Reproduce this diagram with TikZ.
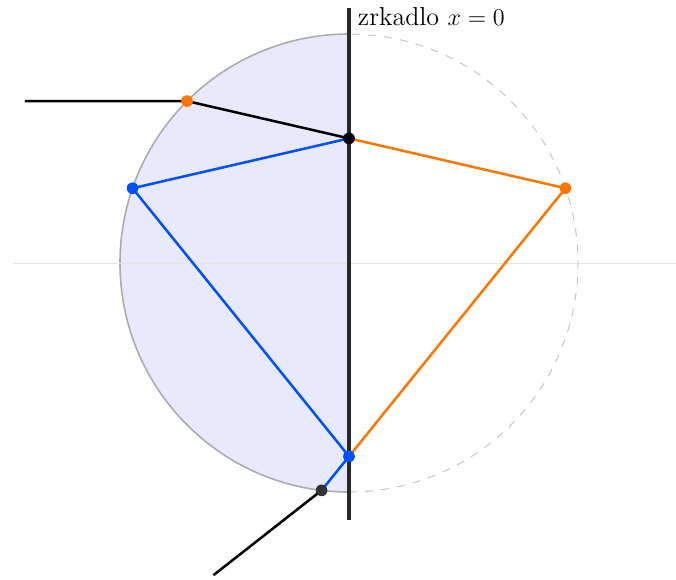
\documentclass[tikz,border=0pt]{standalone}
\usepackage{tikz}
\usetikzlibrary{calc}
\definecolor{rayorange}{RGB}{255,119,0}
\definecolor{rayblue}{RGB}{0,80,255}
\definecolor{dropfill}{RGB}{232,234,252}
\definecolor{mirrorgray}{RGB}{40,40,40}
\tikzset{
  ray/.style={line width=1.25pt},
  inray/.style={ray, color=black},
  blueray/.style={ray, color=rayblue},
  orangeray/.style={ray, color=rayorange},
  dot/.style={circle, inner sep=0pt, minimum size=5.8pt, fill=#1},
  mirror/.style={line width=1.5pt, color=mirrorgray},
}

\begin{document}
\begin{tikzpicture}
  \useasboundingbox (-6.096,-5.520) rectangle (5.712,4.594);

  % Kvapka
  \fill[dropfill] (0,4) arc (90:270:4) -- cycle;
  \draw[gray!65, line width=0.8pt] (0,4) arc (90:270:4);
  \draw[gray!45, line width=0.5pt, dash pattern=on 4pt off 4pt] (0,-4) arc (-90:90:4);
  \draw[gray!20, line width=0.5pt] (-5.869,0) -- (5.712,0);

  % Body
  \coordinate (in)   at (135:4);
  \coordinate (back) at (19.06:4);
  \coordinate (out)  at (263.12:4);
  \coordinate (refl) at (160.94:4);
  \coordinate (mtop) at (0,4.454);
  \coordinate (mbot) at (0,-4.489);
  \coordinate (A) at (intersection of in--back and mtop--mbot);
  \coordinate (B) at (intersection of back--out and mtop--mbot);
  \coordinate (src) at (-5.66,2.828);
  \coordinate (dst) at ($(out)+(218.12:2.4)$);

  % Zrkadlo
  \draw[mirror] (mtop) -- (mbot);
  \node[anchor=base west, inner sep=0pt, font=\fontsize{12.9}{15}\selectfont] (label) at (0.15,4.14) {zrkadlo $x=0$};

  % Luce
  \draw[inray] (src) -- (in) -- (A);
  \draw[orangeray] (A) -- (back) -- (B);
  \draw[blueray] (A) -- (refl) -- (B) -- (out);
  \draw[inray] (out) -- (dst);

  \node[dot=rayorange] (inDot)   at (in)   {};
  \node[dot=black]     (aDot)    at (A)    {};
  \node[dot=rayblue]   (reflDot) at (refl) {};
  \node[dot=rayorange] (backDot) at (back) {};
  \node[dot=rayblue]   (bDot)    at (B)    {};
  \node[dot=black!80]  (outDot)  at (out)  {};

\end{tikzpicture}
\end{document}
